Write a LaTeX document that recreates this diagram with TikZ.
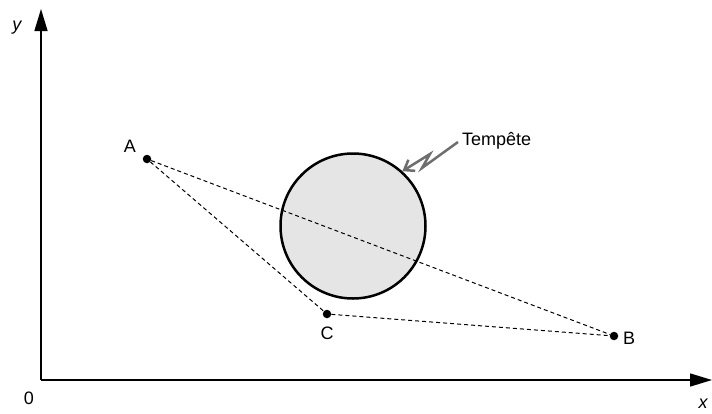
\documentclass[tikz,border=0pt]{standalone}
\usepackage{fontspec}
\setmainfont{Liberation Sans}
\usetikzlibrary{arrows.meta}
\begin{document}
\begin{tikzpicture}[x=1pt,y=-1pt,
  axis/.style={line width=1.5pt,-{Triangle[length=22pt,width=13pt]}},
  pt/.style={circle,fill=black,inner sep=0pt,minimum size=8.5pt},
  lbl/.style={font=\fontsize{18}{21}\selectfont,inner sep=0pt},
  ilbl/.style={font=\fontsize{18}{21}\selectfont\itshape,inner sep=0pt},
  route/.style={line width=1pt,dash pattern=on 4pt off 3pt},
  stormstyle/.style={circle,draw=black,line width=2.5pt,fill=gray!20,minimum size=145pt,inner sep=0pt},
  stormarrow/.style={color={rgb,255:red,110;green,110;blue,110},line width=2.5pt,-{Straight Barb[length=9pt,width=13pt]}}]
\useasboundingbox (0,0) rectangle (712,413);
\coordinate (O) at (41,380);
\coordinate (ytip) at (41,9);
\coordinate (xtip) at (712,380);
\draw[axis] (O) -- (ytip);
\draw[axis] (O) -- (xtip);
\node[ilbl] (ylab) at (17,28) {y};
\node[ilbl] (xlab) at (703,404) {x};
\node[lbl] (zero) at (29,398) {0};
\node[stormstyle] (storm) at (353,226) {};
\node[pt] (A) at (147,159) {};
\node[pt] (B) at (614,336) {};
\node[pt] (C) at (327,314) {};
\node[lbl] (Alab) at (130,146) {A};
\node[lbl] (Blab) at (629,338) {B};
\node[lbl] (Clab) at (327,333) {C};
\draw[route] (A) -- (B);
\draw[route] (A) -- (C);
\draw[route] (C) -- (B);
\node[lbl,anchor=west] (tlab) at (462,141) {Tempête};
\coordinate (zstart) at (458,142);
\draw[stormarrow] (zstart) -- (422,168) -- (430,154) -- (storm.48);
\end{tikzpicture}
\end{document}
